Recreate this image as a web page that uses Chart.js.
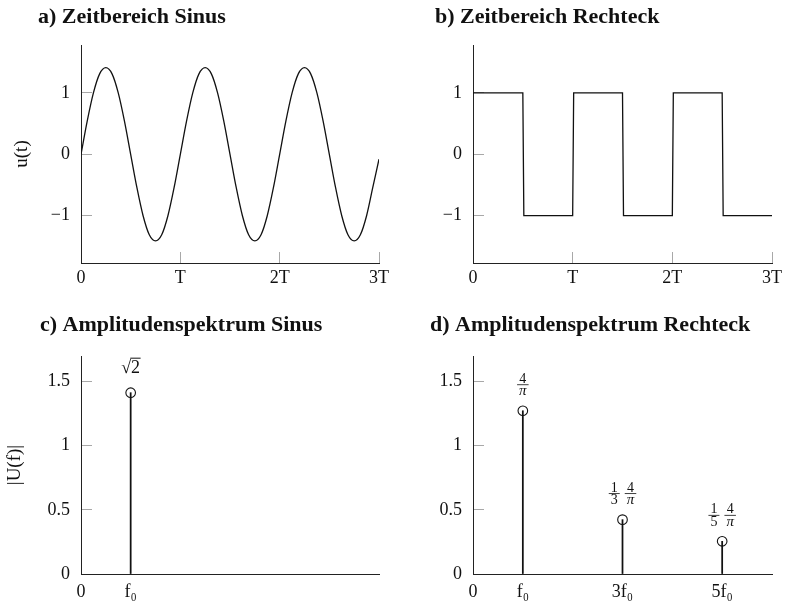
<!DOCTYPE html>
<html>
<head>
<meta charset="utf-8">
<script src="https://cdn.jsdelivr.net/npm/chart.js@4.4.0/dist/chart.umd.min.js"></script>
<style>
  body { margin: 0; background: #fff; }
  .panel { position: absolute; }
  canvas { display: block; }
</style>
</head>
<body>
<div class="panel" style="left:0;top:0"><canvas id="sinTime" width="393" height="300"></canvas></div>
<div class="panel" style="left:393px;top:0"><canvas id="rectTime" width="394" height="300"></canvas></div>
<div class="panel" style="left:0;top:300px"><canvas id="sinSpec" width="393" height="303"></canvas></div>
<div class="panel" style="left:393px;top:300px"><canvas id="rectSpec" width="394" height="303"></canvas></div>
<script>
const SERIF = '"Liberation Serif", "DejaVu Serif", serif';
const INK = '#111';

// Zeitbereich Sinus: Abtastwerte in T/16-Schritten über drei Perioden
const sinT = [0, 0.0625, 0.125, 0.1875, 0.25, 0.3125, 0.375, 0.4375, 0.5, 0.5625, 0.625, 0.6875, 0.75, 0.8125, 0.875, 0.9375,
  1, 1.0625, 1.125, 1.1875, 1.25, 1.3125, 1.375, 1.4375, 1.5, 1.5625, 1.625, 1.6875, 1.75, 1.8125, 1.875, 1.9375,
  2, 2.0625, 2.125, 2.1875, 2.25, 2.3125, 2.375, 2.4375, 2.5, 2.5625, 2.625, 2.6875, 2.75, 2.8125, 2.875, 2.9375, 3];
const sinU = [0, 0.54, 1.0, 1.31, 1.41, 1.31, 1.0, 0.54, 0, -0.54, -1.0, -1.31, -1.41, -1.31, -1.0, -0.54,
  0, 0.54, 1.0, 1.31, 1.41, 1.31, 1.0, 0.54, 0, -0.54, -1.0, -1.31, -1.41, -1.31, -1.0, -0.54,
  0, 0.54, 1.0, 1.31, 1.41, 1.31, 1.0, 0.54, 0, -0.54, -1.0, -1.31, -1.41, -1.31, -1.0, -0.54, -0.08];

// Zeitbereich Rechteck: Eckpunkte des Verlaufs
const rectT = [0, 0.5, 0.51, 1, 1.01, 1.5, 1.51, 2, 2.01, 2.5, 2.51, 3];
const rectU = [1, 1, -1, -1, 1, 1, -1, -1, 1, 1, -1, -1];

const timeXTicks = [0, 1, 2, 3];
const timeXLabels = ['0', 'T', '2T', '3T'];
const timeYTicks = [-1, 0, 1];
const timeYLabels = ['\u22121', '0', '1'];

// Amplitudenspektren
const sinSpecF = [1];
const sinSpecA = [1.414];
const sinSpecText = ['\u221a2'];
const rectSpecF = [1, 3, 5];
const rectSpecA = [1.273, 0.424, 0.255];
const rectSpecText = [[['4', 'π']], [['1', '3'], ['4', 'π']], [['1', '5'], ['4', 'π']]];

const sinSpecXTicks = [0, 1];
const sinSpecXLabels = ['0', 'f\u2080'];
const rectSpecXTicks = [0, 1, 3, 5];
const rectSpecXLabels = ['0', 'f\u2080', '3f\u2080', '5f\u2080'];
const specYTicks = [0, 0.5, 1, 1.5];
const specYLabels = ['0', '0.5', '1', '1.5'];

function axis(o) {
  return {
    type: 'linear',
    min: o.min,
    max: o.max,
    offset: false,
    border: { display: true, color: '#222', width: 1 },
    grid: { display: true, offset: false, drawOnChartArea: false, drawTicks: true, tickLength: -11, tickColor: '#a8a8a8', tickWidth: 1 },
    afterBuildTicks: s => { s.ticks = o.ticks.map(v => ({ value: v })); },
    afterFit: s => {
      // feste Achsenbreite/-höhe, kein Zusatzrand für Randbeschriftungen
      if (o.width) s.width = o.width;
      if (o.height) s.height = o.height;
      s.paddingLeft = s.paddingRight = s.paddingTop = s.paddingBottom = 0;
    },
    ticks: {
      color: INK,
      padding: o.padding,
      autoSkip: false,
      maxRotation: 0,
      font: { family: SERIF, size: 18 },
      callback: (v, i) => o.labels[i]
    },
    title: o.title
      ? { display: true, text: o.title, color: INK, font: { family: SERIF, size: 19 }, padding: { top: o.titlePad, bottom: 0 } }
      : { display: false }
  };
}

function panelOptions(o) {
  return {
    responsive: false,
    animation: false,
    layout: { padding: { left: o.left, right: o.right, top: 0, bottom: 0 } },
    plugins: {
      legend: { display: false },
      tooltip: { enabled: false },
      title: {
        display: true,
        text: o.title,
        align: 'start',
        color: INK,
        font: { family: SERIF, size: 22, weight: 'bold' },
        padding: { top: o.titleTop, bottom: o.titleBottom }
      }
    },
    scales: { x: o.x, y: o.y }
  };
}

// Beschriftung über den Spektrallinien
function drawRoot(ctx, s, cx, base) {
  ctx.font = '18px ' + SERIF;
  ctx.textAlign = 'left';
  ctx.textBaseline = 'alphabetic';
  const w = ctx.measureText(s).width;
  const wr = ctx.measureText(s[0]).width;
  const x0 = cx - w / 2;
  ctx.fillText(s, x0, base);
  ctx.lineWidth = 1;
  ctx.beginPath();
  ctx.moveTo(x0 + wr - 0.8, base - 14.5);
  ctx.lineTo(x0 + w + 0.5, base - 14.5);
  ctx.stroke();
}

function fracFont(t) {
  return t === 'π' ? 'italic 15px ' + SERIF : '14px ' + SERIF;
}

function drawFractions(ctx, parts, cx, cy) {
  const widths = parts.map(([n, d]) => {
    ctx.font = fracFont(n);
    const wn = ctx.measureText(n).width;
    ctx.font = fracFont(d);
    const wd = ctx.measureText(d).width;
    return Math.max(wn, wd) + 4;
  });
  const gap = 5;
  const total = widths.reduce((a, b) => a + b, 0) + gap * (parts.length - 1);
  let x = cx - total / 2;
  ctx.textAlign = 'center';
  ctx.textBaseline = 'alphabetic';
  parts.forEach(([n, d], j) => {
    const mid = x + widths[j] / 2;
    ctx.font = fracFont(n);
    ctx.fillText(n, mid, cy - 2);
    ctx.font = fracFont(d);
    ctx.fillText(d, mid, cy + 10.5);
    ctx.fillRect(x, cy - 0.4, widths[j], 0.8);
    x += widths[j] + gap;
  });
}

function stemLabels(freqs, amps, texts) {
  return {
    id: 'stemLabels',
    afterDatasetsDraw(chart) {
      const { ctx } = chart;
      const xs = chart.scales.x, ys = chart.scales.y;
      ctx.save();
      ctx.fillStyle = INK;
      ctx.strokeStyle = INK;
      freqs.forEach((f, i) => {
        const px = xs.getPixelForValue(f);
        const py = ys.getPixelForValue(amps[i]);
        const t = texts[i];
        if (typeof t === 'string') drawRoot(ctx, t, px, py - 20);
        else drawFractions(ctx, t, px, py - 26);
      });
      ctx.restore();
    }
  };
}

function curve(ts, us) {
  return {
    data: ts.map((t, i) => ({ x: t, y: us[i] })),
    borderColor: INK,
    borderWidth: 1.3,
    pointRadius: 0,
    fill: false,
    cubicInterpolationMode: 'monotone'
  };
}

function stems(fs, as) {
  return [
    {
      type: 'bar',
      data: fs.map((f, i) => ({ x: f, y: as[i] })),
      backgroundColor: INK,
      borderWidth: 0,
      barThickness: 1.1
    },
    {
      type: 'scatter',
      data: fs.map((f, i) => ({ x: f, y: as[i] })),
      pointRadius: 4.8,
      pointBackgroundColor: '#fff',
      pointBorderColor: INK,
      pointBorderWidth: 1.1
    }
  ];
}

// a) Zeitbereich Sinus
new Chart(document.getElementById('sinTime'), {
  type: 'line',
  data: { datasets: [curve(sinT, sinU)] },
  options: panelOptions({
    title: 'a) Zeitbereich Sinus', left: 38, right: 14, titleTop: 3.8, titleBottom: 14.8,
    x: axis({ min: 0, max: 3, ticks: timeXTicks, labels: timeXLabels, padding: 15, height: 37 }),
    y: axis({ min: -1.77, max: 1.78, ticks: timeYTicks, labels: timeYLabels, padding: 22, width: 43, title: 'u(t)', titlePad: -27.4 })
  })
});

// b) Zeitbereich Rechteck
new Chart(document.getElementById('rectTime'), {
  type: 'line',
  data: { datasets: [Object.assign(curve(rectT, rectU), { cubicInterpolationMode: 'default', tension: 0 })] },
  options: panelOptions({
    title: 'b) Zeitbereich Rechteck', left: 42, right: 15, titleTop: 3.8, titleBottom: 14.8,
    x: axis({ min: 0, max: 3, ticks: timeXTicks, labels: timeXLabels, padding: 15, height: 37 }),
    y: axis({ min: -1.77, max: 1.78, ticks: timeYTicks, labels: timeYLabels, padding: 22, width: 38 })
  })
});

// c) Amplitudenspektrum Sinus
new Chart(document.getElementById('sinSpec'), {
  type: 'scatter',
  data: { datasets: stems(sinSpecF, sinSpecA) },
  options: panelOptions({
    title: 'c) Amplitudenspektrum Sinus', left: 40, right: 14, titleTop: 11.8, titleBottom: 17.8,
    x: axis({ min: 0, max: 6, ticks: sinSpecXTicks, labels: sinSpecXLabels, padding: 18, height: 29 }),
    y: axis({ min: 0, max: 1.7, ticks: specYTicks, labels: specYLabels, padding: 22, width: 41, title: '|U(f)|', titlePad: -36.4 })
  }),
  plugins: [stemLabels(sinSpecF, sinSpecA, sinSpecText)]
});

// d) Amplitudenspektrum Rechteck
new Chart(document.getElementById('rectSpec'), {
  type: 'scatter',
  data: { datasets: stems(rectSpecF, rectSpecA) },
  options: panelOptions({
    title: 'd) Amplitudenspektrum Rechteck', left: 37, right: 15, titleTop: 11.8, titleBottom: 17.8,
    x: axis({ min: 0, max: 6, ticks: rectSpecXTicks, labels: rectSpecXLabels, padding: 18, height: 29 }),
    y: axis({ min: 0, max: 1.7, ticks: specYTicks, labels: specYLabels, padding: 22, width: 43 })
  }),
  plugins: [stemLabels(rectSpecF, rectSpecA, rectSpecText)]
});
</script>
</body>
</html>
